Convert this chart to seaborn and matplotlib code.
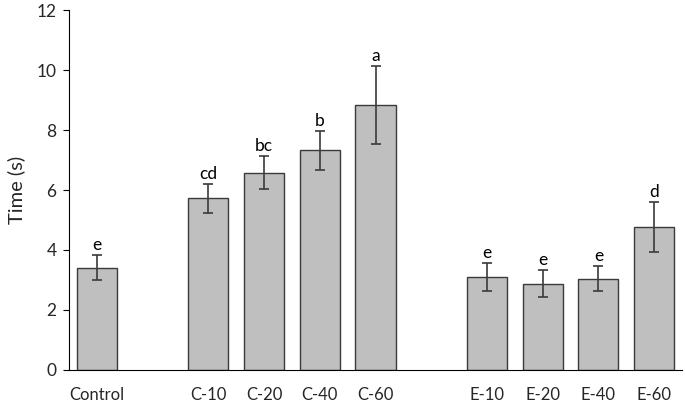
import numpy as np
import pandas as pd
import matplotlib
matplotlib.use('Agg')
import matplotlib.pyplot as plt
import seaborn as sns

# data
groups = ['Control', 'C-10', 'C-20', 'C-40', 'C-60', 'E-10', 'E-20', 'E-40', 'E-60']
means = [3.41, 5.73, 6.58, 7.32, 8.83, 3.10, 2.88, 3.04, 4.77]
errors = [0.42, 0.48, 0.55, 0.65, 1.30, 0.48, 0.46, 0.42, 0.83]
letters = ['e', 'cd', 'bc', 'b', 'a', 'e', 'e', 'e', 'd']
# blank slots separate the groups on the axis
order = ['Control', ' ', 'C-10', 'C-20', 'C-40', 'C-60', '  ', 'E-10', 'E-20', 'E-40', 'E-60']

sns.set_style('white')
plt.rcParams['font.family'] = ['Lato', 'DejaVu Sans']

df = pd.DataFrame({'group': groups, 'time': means})

fig = plt.figure(figsize=(6.85, 4.05), dpi=100)
ax = fig.add_axes([69 / 685, 35 / 405, 613 / 685, 360 / 405])

sns.barplot(data=df, x='group', y='time', order=order, color='#bfbfbf',
            saturation=1, width=0.72, edgecolor='#3a3a3a', linewidth=1,
            errorbar=None, ax=ax)

# bar centres from the drawn patches, in the order of df
bars = [p for p in ax.patches if p.get_height() > 0]
bars = sorted(bars, key=lambda p: p.get_x())
xs = np.array([b.get_x() + b.get_width() / 2 for b in bars])

ax.errorbar(xs, means, yerr=errors, fmt='none', ecolor='#3a3a3a',
            elinewidth=1.2, capsize=3.5, capthick=1.2)

for x, m, e, lab in zip(xs, means, errors, letters):
    ax.annotate(lab, (x, m + e), xytext=(0, 1.5), textcoords='offset points',
                ha='center', va='bottom', fontsize=12.5, color='black')

ax.set_xlim(-0.5, 10.5)
ax.set_ylim(0, 12)
ax.set_yticks(np.arange(0, 13, 2))
ax.set_xlabel('')
ax.set_ylabel('Time (s)', fontsize=14.5, labelpad=8)
ax.tick_params(axis='y', which='both', left=True, length=4, width=0.8,
               color='black', labelsize=12.5, pad=5)
ax.tick_params(axis='x', bottom=False, labelsize=12, pad=9)

sns.despine(ax=ax)
for s in ['left', 'bottom']:
    ax.spines[s].set_color('black')
    ax.spines[s].set_linewidth(0.8)

fig.savefig('out.png', dpi=100)
